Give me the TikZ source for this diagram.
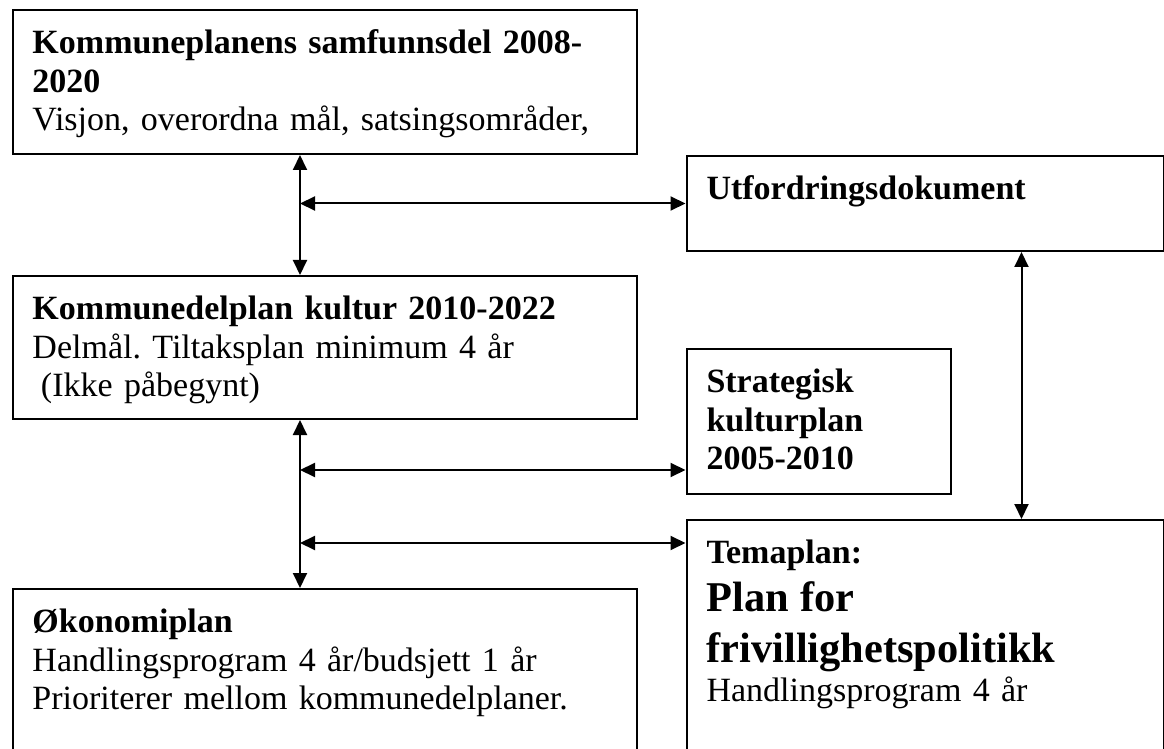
\documentclass[tikz,border=0pt]{standalone}
\usepackage{fontspec}
\setmainfont{Liberation Serif}
\usetikzlibrary{positioning, arrows.meta}
\frenchspacing

\begin{document}
\begin{tikzpicture}[
  font=\fontsize{17pt}{19.3pt}\selectfont,
  plan/.style={draw, line width=1pt, anchor=north west, align=left,
               inner xsep=10pt, inner ysep=0pt, text height=21.75pt},
  wide/.style={text width=292pt},
  side/.style={text width=218.5pt},
  link/.style={{Triangle[length=7.5pt, width=7pt]}-{Triangle[length=7.5pt, width=7pt]},
               line width=1pt}
]
\useasboundingbox (0,0) rectangle (582pt,-374.5pt);

\node[plan, wide, text depth=50.25pt] (samf) at (5.75pt,-4.5pt)
  {\textbf{Kommuneplanens samfunnsdel 2008-}\\\textbf{2020}\\Visjon, overordna mål, satsingsområder,};
\node[plan, wide, text depth=49.75pt, below=60pt of samf, anchor=north] (kultur)
  {\textbf{Kommunedelplan kultur 2010-2022}\\Delmål. Tiltaksplan minimum 4 år\\\hspace*{0.25em}(Ikke påbegynt)};
\node[plan, wide, text depth=68.25pt, below=84pt of kultur, anchor=north] (okon)
  {\textbf{Økonomiplan}\\Handlingsprogram 4 år/budsjett 1 år\\Prioriterer mellom kommunedelplaner.};

\node[plan, side, text depth=25.75pt, right=24pt of samf.south east, anchor=north west] (utf)
  {\textbf{Utfordringsdokument}};
\node[plan, text width=112pt, text depth=50.75pt, below=48pt of utf.south west, anchor=north west] (strat)
  {\textbf{Strategisk}\\\textbf{kulturplan}\\\textbf{2005-2010}};
\node[plan, side, text depth=108.25pt, below=12pt of strat.south west, anchor=north west] (tema)
  {\textbf{Temaplan:}\\[4.7pt]{\fontsize{21.2pt}{25pt}\selectfont\bfseries Plan for}\\[6.2pt]%
   {\fontsize{21.2pt}{25pt}\selectfont\bfseries frivillighetspolitikk}\\Handlingsprogram 4 år};

% left stem
\coordinate (stem) at ([xshift=-12.25pt]samf.south);
\draw[link] (stem) -- (kultur.north -| stem);
\draw[link] (utf.west -| stem) -- (utf.west);
\draw[link] (kultur.south -| stem) -- (okon.north -| stem);
\draw[link] ([yshift=12.5pt]strat.south west -| stem) -- ([yshift=12.5pt]strat.south west);
\draw[link] ([yshift=-12pt]tema.north west -| stem) -- ([yshift=-12pt]tema.north west);
% right
\draw[link] ([xshift=48.25pt]utf.south) -- ([xshift=48.25pt]tema.north);
\end{tikzpicture}
\end{document}
